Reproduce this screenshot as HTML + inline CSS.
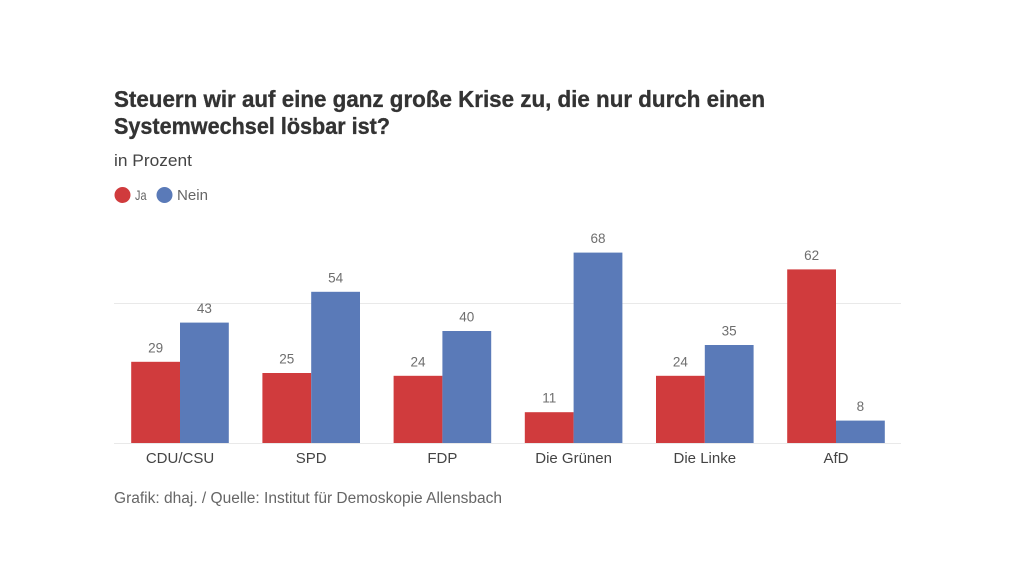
<!DOCTYPE html>
<html lang="de">
<head>
<meta charset="utf-8">
<title>Steuern wir auf eine ganz große Krise zu</title>
<style>
html,body{margin:0;padding:0;background:#fff;width:1030px;height:580px;overflow:hidden}
svg{display:block;font-family:"Liberation Sans",sans-serif}
</style>
</head>
<body>
<svg id="chart" xmlns="http://www.w3.org/2000/svg" width="1030" height="580" viewBox="0 0 1030 580">
  <text x="114" y="107" font-size="23" font-weight="700" fill="#333333" stroke="#333333" stroke-width="0.35" textLength="651" lengthAdjust="spacingAndGlyphs">Steuern wir auf eine ganz große Krise zu, die nur durch einen</text>
  <text x="114" y="134" font-size="23" font-weight="700" fill="#333333" stroke="#333333" stroke-width="0.35" textLength="276" lengthAdjust="spacingAndGlyphs">Systemwechsel lösbar ist?</text>
  <text x="114" y="166" font-size="16.500" fill="#444444" textLength="78" lengthAdjust="spacingAndGlyphs">in Prozent</text>
  <g>
    <circle cx="122.500" cy="195" r="8" fill="#d03b3d"/>
    <text x="135" y="200" font-size="14" fill="#666666" textLength="11.500" lengthAdjust="spacingAndGlyphs">Ja</text>
    <circle cx="164.500" cy="195" r="8" fill="#5a7ab8"/>
    <text x="177" y="200" font-size="15" fill="#666666" textLength="31" lengthAdjust="spacingAndGlyphs">Nein</text>
  </g>
  <g id="plot"></g>
  <text x="114" y="503" font-size="15.500" fill="#666666" textLength="388" lengthAdjust="spacingAndGlyphs">Grafik: dhaj. / Quelle: Institut für Demoskopie Allensbach</text>
</svg>
<script>
const categories = ["CDU/CSU", "SPD", "FDP", "Die Grünen", "Die Linke", "AfD"];
const jaValues = [29, 25, 24, 11, 24, 62];
const neinValues = [43, 54, 40, 68, 35, 8];
const gridTicks = [0, 50];

const NS = "http://www.w3.org/2000/svg";
const plot = document.getElementById("plot");
const BASE_Y = 443;
const PX_PER_UNIT = 2.8;
const FIRST_CENTER = 180;
const STEP = 131.2;
const BAR_W = 48.8;

function yScale(v) { return BASE_Y - v * PX_PER_UNIT; }
function xCenter(i) { return FIRST_CENTER + i * STEP; }

function svgEl(tag, attrs, text) {
  const el = document.createElementNS(NS, tag);
  Object.keys(attrs).forEach(function (k) { el.setAttribute(k, attrs[k]); });
  if (text !== undefined) el.textContent = text;
  plot.appendChild(el);
  return el;
}

gridTicks.forEach(function (t) {
  const line = svgEl("line", { x1: 114, x2: 901, y1: yScale(t) + 0.5, y2: yScale(t) + 0.5, stroke: "#e9e9e9", "stroke-width": 1 });
  
  
});

function drawSeries(values, offset, color, seriesName) {
  values.forEach(function (v, i) {
    const x = xCenter(i) + offset;
    const rect = svgEl("rect", { x: x, y: yScale(v), width: BAR_W, height: BASE_Y - yScale(v), fill: color });
    
    
    rect.setAttribute('aria-label', seriesName + " " + categories[i]);
    const label = svgEl("text", { x: x + BAR_W / 2, y: yScale(v) - 9.5, "text-anchor": "middle", "font-size": 13.5, fill: "#6e6e6e" }, String(v));
    
    
  });
}

drawSeries(jaValues, -BAR_W, "#d03b3d", "Ja");
drawSeries(neinValues, 0, "#5a7ab8", "Nein");

categories.forEach(function (c, i) {
  const tick = svgEl("text", { x: xCenter(i), y: 463, "text-anchor": "middle", "font-size": 15, fill: "#444444" }, c);
  
  
});
</script>
</body>
</html>
